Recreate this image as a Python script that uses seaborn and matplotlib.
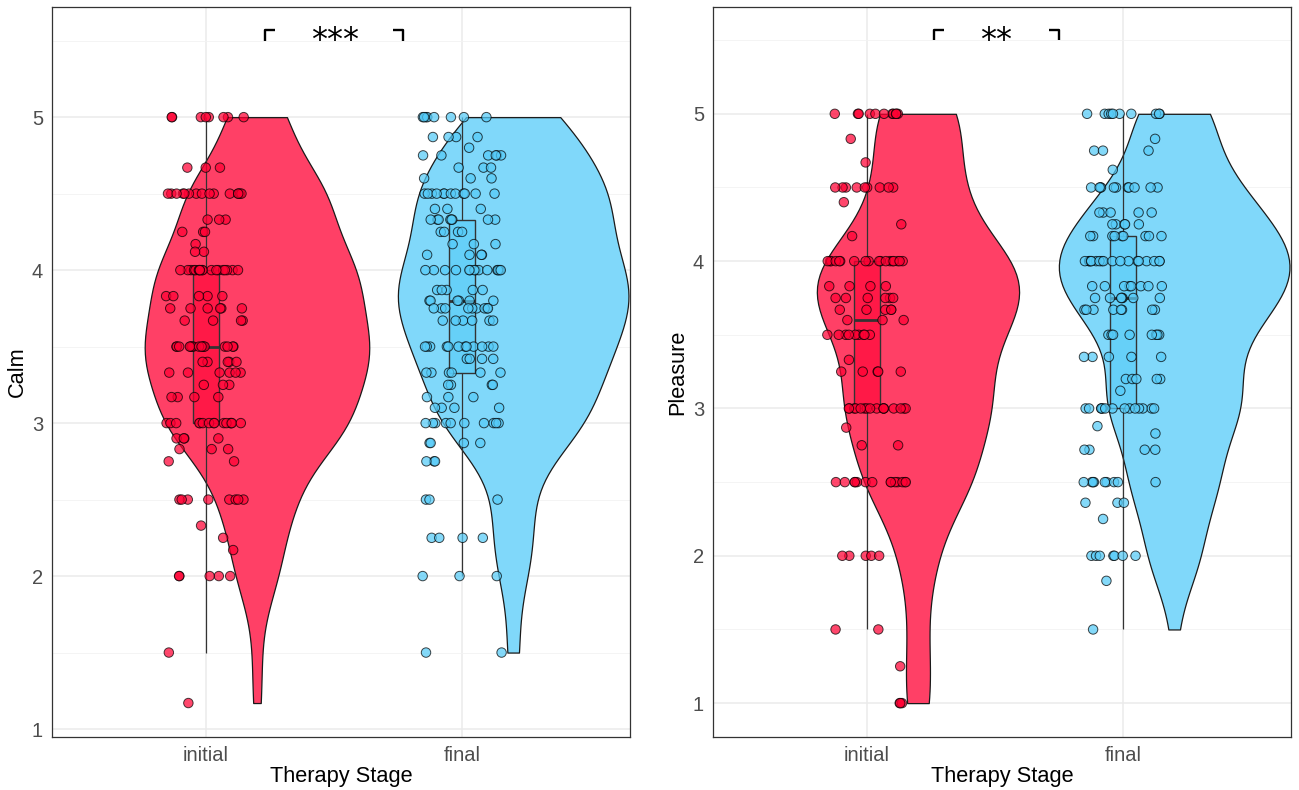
import numpy as np
import pandas as pd
import matplotlib
matplotlib.use("Agg")
import matplotlib.pyplot as plt
import seaborn as sns
from matplotlib.colors import to_rgba

# ---------------- data ----------------
stages = ["initial", "final"]

calm_initial_levels = [5.0, 4.67, 4.5, 4.33, 4.25, 4.17, 4.12, 4.0, 3.83, 3.75, 3.67, 3.5, 3.4,
                       3.33, 3.25, 3.17, 3.0, 2.9, 2.83, 2.75, 2.5, 2.33, 2.25, 2.17, 2.0, 1.5, 1.17]
calm_initial_counts = [8, 3, 15, 3, 3, 1, 2, 18, 5, 6, 4, 16, 5,
                       6, 3, 4, 15, 4, 3, 2, 8, 1, 1, 1, 5, 1, 1]

calm_final_levels = [5.0, 4.87, 4.8, 4.75, 4.67, 4.6, 4.5, 4.4, 4.33, 4.25, 4.17, 4.1, 4.0, 3.87, 3.8,
                     3.75, 3.67, 3.5, 3.42, 3.33, 3.25, 3.17, 3.1, 3.0, 2.87, 2.75, 2.5, 2.25, 2.0, 1.5]
calm_final_counts = [8, 4, 1, 6, 3, 3, 12, 3, 8, 4, 3, 4, 14, 5, 6,
                     9, 6, 12, 4, 6, 4, 3, 4, 10, 4, 3, 3, 4, 3, 2]

pleasure_initial_levels = [5.0, 4.83, 4.67, 4.5, 4.4, 4.25, 4.17, 4.0, 3.83, 3.75, 3.67, 3.6, 3.5,
                           3.33, 3.25, 3.0, 2.87, 2.75, 2.5, 2.0, 1.5, 1.25, 1.0]
pleasure_initial_counts = [11, 1, 1, 9, 1, 1, 1, 18, 4, 6, 5, 3, 9,
                           1, 5, 16, 1, 2, 14, 5, 2, 1, 3]

pleasure_final_levels = [5.0, 4.83, 4.75, 4.62, 4.5, 4.33, 4.25, 4.17, 4.0, 3.83, 3.75, 3.67, 3.5,
                         3.35, 3.2, 3.12, 3.0, 2.88, 2.83, 2.72, 2.5, 2.36, 2.25, 2.0, 1.83, 1.5]
pleasure_final_counts = [10, 1, 3, 1, 11, 5, 5, 9, 18, 8, 7, 8, 8,
                         5, 5, 1, 14, 1, 1, 4, 9, 3, 1, 7, 1, 1]

sig_labels = ["***", "**"]
y_labels = ["Calm", "Pleasure"]
x_label = "Therapy Stage"

# ---------------- styling ----------------
base_colors = {"initial": "#FF0033", "final": "#55CBF8"}
violin_colors = {k: tuple(np.array(to_rgba(c)[:3]) * 0.75 + 0.25) for k, c in base_colors.items()}
stage_pos = {"initial": 0.0, "final": 1.0}
violin_nudge = 0.2


def make_frame(init_lv, init_ct, fin_lv, fin_ct):
    parts = []
    for st, lv, ct in (("initial", init_lv, init_ct), ("final", fin_lv, fin_ct)):
        vals = np.repeat(np.array(lv, dtype=float), np.array(ct))
        parts.append(pd.DataFrame({"stage": st, "value": vals}))
    df = pd.concat(parts, ignore_index=True)
    df["bpos"] = df["stage"].map(stage_pos)
    df["vpos"] = df["bpos"] + violin_nudge
    return df


def nrd0_factor(df):
    # bandwidth factor similar to R's bw.nrd0 (relative to sd)
    facs = []
    for _, g in df.groupby("stage"):
        v = g["value"].to_numpy()
        sd = v.std(ddof=1)
        iqr = np.subtract(*np.percentile(v, [75, 25]))
        bw = 0.9 * min(sd, iqr / 1.34) * len(v) ** -0.2
        facs.append(bw / sd)
    return float(np.mean(facs))


calm_df = make_frame(calm_initial_levels, calm_initial_counts, calm_final_levels, calm_final_counts)
pleasure_df = make_frame(pleasure_initial_levels, pleasure_initial_counts,
                         pleasure_final_levels, pleasure_final_counts)

sns.set_theme(style="whitegrid")
plt.rcParams["font.family"] = ["Liberation Sans", "DejaVu Sans"]

fig = plt.figure(figsize=(12.99, 7.9), dpi=100)
ax1 = fig.add_axes([52 / 1299, 53 / 790, 578 / 1299, 730 / 790])
ax2 = fig.add_axes([713 / 1299, 53 / 790, 578 / 1299, 730 / 790])

panels = [
    (ax1, calm_df, (0.948, 5.72), 0, ((0.23, 0.27), (0.73, 0.77)), 0.504),
    (ax2, pleasure_df, (0.77, 5.725), 1, ((0.263, 0.30), (0.71, 0.749)), 0.506),
]

np.random.seed(7)
for ax, df, ylim, i, brackets, star_x in panels:
    sns.violinplot(data=df, x="vpos", y="value", hue="stage", hue_order=stages,
                   palette=violin_colors, native_scale=True, dodge=False, orient="x",
                   density_norm="area", common_norm=True, cut=0, inner=None, width=0.9,
                   linewidth=0.9, linecolor="#1a1a1a", bw_method=nrd0_factor(df),
                   saturation=1, legend=False, ax=ax)
    sns.stripplot(data=df, x="bpos", y="value", hue="stage", hue_order=stages,
                  palette=base_colors, native_scale=True, dodge=False, orient="x",
                  jitter=0.155, size=6.8, linewidth=0.7, edgecolor="black", alpha=0.72,
                  legend=False, ax=ax)
    n_before = len(ax.patches)
    sns.boxplot(data=df, x="bpos", y="value", hue="stage", hue_order=stages,
                palette=base_colors, native_scale=True, dodge=False, orient="x",
                width=0.1, showfliers=False, whis=1.5, linewidth=1.0, linecolor="#333333",
                saturation=1, legend=False, ax=ax,
                medianprops={"linewidth": 2.0, "color": "#333333"},
                whiskerprops={"linewidth": 0.9, "color": "#333333"},
                capprops={"visible": False})
    for p in ax.patches[n_before:]:
        fc = p.get_facecolor()
        p.set_facecolor((fc[0], fc[1], fc[2], 0.6))

    # significance bracket (annotation)
    y_top = 5.57
    y_tick = 5.50
    (l0, l1), (r0, r1) = brackets
    ax.plot([l0, l0, l1], [y_tick, y_top, y_top], color="black", lw=1.7, solid_capstyle="butt")
    ax.plot([r0, r1, r1], [y_top, y_top, y_tick], color="black", lw=1.7, solid_capstyle="butt")
    ax.text(star_x, 5.50, sig_labels[i], ha="center", va="center", fontsize=23,
            color="black", family=["DejaVu Sans"])

    ax.set_xlim(-0.60, 1.656)
    ax.set_ylim(*ylim)
    ax.set_xticks([stage_pos[s] for s in stages])
    ax.set_xticklabels(stages)
    ax.set_yticks([1, 2, 3, 4, 5])
    ax.set_yticklabels(["1", "2", "3", "4", "5"])
    ax.set_yticks([1.5, 2.5, 3.5, 4.5, 5.5], minor=True)
    ax.grid(which="major", color="#EBEBEB", linewidth=1.1)
    ax.grid(which="minor", axis="y", color="#F2F2F2", linewidth=0.6)
    ax.set_axisbelow(True)
    ax.tick_params(which="major", length=4, width=0.8, color="#333333",
                   labelsize=14.5, labelcolor="#4D4D4D", pad=2.5)
    ax.tick_params(which="minor", length=0)
    for sp in ax.spines.values():
        sp.set_color("#333333")
        sp.set_linewidth(0.9)
    ax.set_xlabel(x_label, fontsize=15.7, color="black", labelpad=1)
    ax.set_ylabel(y_labels[i], fontsize=15.7, color="black", labelpad=3)

fig.savefig("out.png", dpi=100)
